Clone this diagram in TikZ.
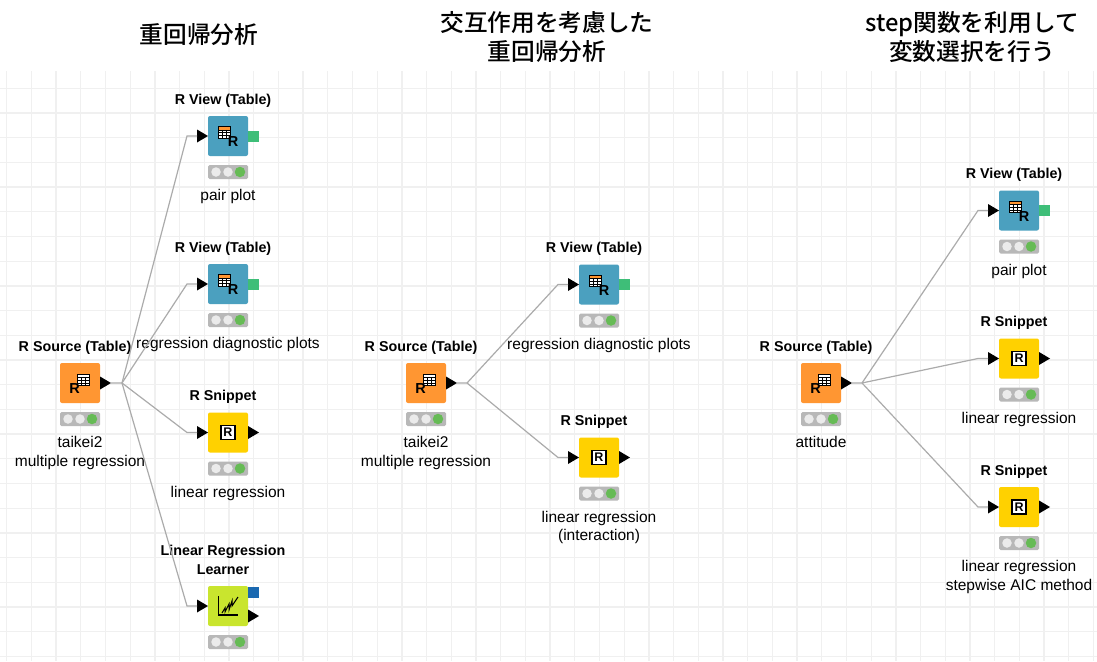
\documentclass[tikz,border=0pt]{standalone}
\usepackage{fontspec}
\setmainfont{Liberation Sans}
\newfontfamily\cjk{Noto Sans CJK JP Medium}
\usepackage{xcolor}
\usepackage{tikz}
\usetikzlibrary{arrows.meta,positioning,shapes.geometric}

\definecolor{srcorange}{HTML}{FF9632}
\definecolor{viewblue}{HTML}{4BA0BF}
\definecolor{snipyellow}{HTML}{FFD100}
\definecolor{learngreen}{HTML}{C9E52E}
\definecolor{portgreen}{HTML}{3EBE78}
\definecolor{portblue}{HTML}{1A68B0}
\definecolor{lampgreen}{HTML}{66BB55}

% icon, traffic light, title and label of one workflow node
\newcommand{\knimenode}[5]{%
  \node[#3, #2] (#1) {};
  \node[lamp, below=9pt of #1] (#1-lamp) {};
  \node[lampoff] (#1-b) at (#1-lamp) {};
  \node[lampoff, left=2.5pt of #1-b] (#1-a) {};
  \node[lampon, right=2pt of #1-b] (#1-c) {};
  \node[nodetitle, above=9pt of #1, xshift=-5pt] (#1-title) {#4};
  \node[nodelabel, below=10.5pt of #1-lamp] (#1-label) {#5};
}
% input port with the bend of the wire in front of it
\newcommand{\knimein}[1]{%
  \node[portin, left=0pt of #1] (#1-in) {};
  \coordinate[left=10pt of #1-in] (#1-knee);
}
\newcommand{\tableicon}[3]{%
  \begin{scope}[shift={(#1)}, shift={(#2)}]
    \fill[white] (0,0) rectangle (11.5,11.5);
    \fill[#3] (0,0) rectangle (11.5,3.2);
    \draw[black, line width=.6pt] (0,3.2) -- (11.5,3.2) (0,6) -- (11.5,6) (0,8.8) -- (11.5,8.8)
      (3.8,3.2) -- (3.8,11.5) (7.7,3.2) -- (7.7,11.5);
    \draw[black, line width=1pt] (0,0) rectangle (11.5,11.5);
  \end{scope}
}

\begin{document}
\begin{tikzpicture}[
    x=1pt, y=-1pt,
    every node/.style={inner sep=0pt, outer sep=0pt},
    icon/.style={rounded corners=2pt, minimum size=40pt},
    srcbox/.style={icon, fill=srcorange},
    viewbox/.style={icon, fill=viewblue},
    snipbox/.style={icon, fill=snipyellow},
    learnbox/.style={icon, fill=learngreen},
    lamp/.style={rounded corners=1.5pt, minimum width=40pt, minimum height=14pt, fill=black!28},
    lampoff/.style={circle, minimum size=9.5pt, fill=black!8},
    lampon/.style={circle, minimum size=10.5pt, fill=lampgreen},
    nodetitle/.style={align=center, anchor=south, font=\bfseries\fontsize{14.3}{18.5}\selectfont},
    nodelabel/.style={align=center, font=\fontsize{15.5}{18.5}\selectfont},
    heading/.style={align=center, font=\cjk\fontsize{23.7}{29}\selectfont},
    portin/.style={isosceles triangle, isosceles triangle stretches, minimum width=13pt, minimum height=11pt, fill=black},
    portout/.style={portin},
    portview/.style={minimum size=11pt, fill=portgreen},
    portmodel/.style={minimum size=11pt, fill=portblue},
    gridline/.style={draw=black!6, line width=1.3pt},
    wire/.style={draw=black!33, line width=1.2pt},
    letter/.style={font=\bfseries\fontsize{14.5}{14.5}\selectfont},
    snipletter/.style={draw=black, line width=1.3pt, fill=white, minimum size=14pt, font=\bfseries\fontsize{12.5}{12.5}\selectfont}
]
\useasboundingbox (0,0) rectangle (1097,661);
\fill[white] (0,0) rectangle (1097,661);

\foreach \i in {0,...,44} \draw[gridline] ({6.7+24.7*\i},71) -- ({6.7+24.7*\i},661);
\foreach \j in {0,...,23} \draw[gridline] (0,{88.3+24.7*\j}) -- (1097,{88.3+24.7*\j});

\node[heading] (head1) at (199,35) {重回帰分析};
\node[heading] (head2) at (547,37) {交互作用を考慮した\\重回帰分析};
\node[heading] (head3) at (972,37) {step関数を利用して\\変数選択を行う};

% first workflow
\knimenode{src1}{at={(80,383)}}{srcbox}{R Source (Table)}{taikei2\\multiple regression}
\knimenode{view1}{above right=207pt and 108pt of src1}{viewbox}{R View (Table)}{pair plot}
\knimenode{view2}{above right=59pt and 108pt of src1}{viewbox}{R View (Table)}{regression diagnostic plots}
\knimenode{snip1}{below right=9.5pt and 108pt of src1}{snipbox}{R Snippet}{linear regression}
\knimenode{learn1}{below right=183pt and 108pt of src1}{learnbox}{Linear Regression\\Learner\rule[-3pt]{0pt}{0pt}}{}

% second workflow
\knimenode{src2}{right=306pt of src1}{srcbox}{R Source (Table)}{taikei2\\multiple regression}
\knimenode{view3}{above right=58.5pt and 133pt of src2}{viewbox}{R View (Table)}{regression diagnostic plots}
\knimenode{snip2}{below right=34.5pt and 133pt of src2}{snipbox}{R Snippet}{linear regression\\(interaction)}

% third workflow
\knimenode{src3}{right=355pt of src2}{srcbox}{R Source (Table)}{attitude}
\knimenode{view4}{above right=132.5pt and 158pt of src3}{viewbox}{R View (Table)}{pair plot}
\knimenode{snip3}{right=158pt of src3, yshift=24.5pt}{snipbox}{R Snippet}{linear regression}
\knimenode{snip4}{below right=84pt and 158pt of src3}{snipbox}{R Snippet}{linear regression\\stepwise AIC method}

\knimein{view1} \knimein{view2} \knimein{snip1} \knimein{learn1}
\knimein{view3} \knimein{snip2}
\knimein{view4} \knimein{snip3} \knimein{snip4}

\node[portout, right=0pt of src1] (src1-out) {};
\node[portout, right=0pt of src2] (src2-out) {};
\node[portout, right=0pt of src3] (src3-out) {};
\node[portout, right=0pt of snip1] (snip1-out) {};
\node[portout, right=0pt of snip2] (snip2-out) {};
\node[portout, right=0pt of snip3] (snip3-out) {};
\node[portout, right=0pt of snip4] (snip4-out) {};
\node[portview, right=0pt of view1] (view1-out) {};
\node[portview, right=0pt of view2] (view2-out) {};
\node[portview, right=0pt of view3] (view3-out) {};
\node[portview, right=0pt of view4] (view4-out) {};
\node[portout, right=0pt of learn1, yshift=-10pt] (learn1-out) {};
\node[portmodel, right=0pt of learn1, yshift=13.5pt] (learn1-model) {};

\coordinate[right=11pt of src1-out] (src1-fork);
\coordinate[right=10pt of src2-out] (src2-fork);
\coordinate[right=10pt of src3-out] (src3-fork);

\draw[wire] (src1-out) -- (src1-fork) -- (view1-knee) -- (view1-in);
\draw[wire] (src1-fork) -- (view2-knee) -- (view2-in);
\draw[wire] (src1-fork) -- (snip1-knee) -- (snip1-in);
\draw[wire] (src1-fork) -- (learn1-knee) -- (learn1-in);
\draw[wire] (src2-out) -- (src2-fork) -- (view3-knee) -- (view3-in);
\draw[wire] (src2-fork) -- (snip2-knee) -- (snip2-in);
\draw[wire] (src3-out) -- (src3-fork) -- (view4-knee) -- (view4-in);
\draw[wire] (src3-fork) -- (snip3-knee) -- (snip3-in);
\draw[wire] (src3-fork) -- (snip4-knee) -- (snip4-in);

% icons on the source nodes
\tableicon{src1}{-2.3,-9}{white}
\tableicon{src2}{-2.3,-9}{white}
\tableicon{src3}{-2.3,-9}{white}
\node[letter, xshift=-5.5pt, yshift=-6pt] (src1-r) at (src1) {R};
\node[letter, xshift=-5.5pt, yshift=-6pt] (src2-r) at (src2) {R};
\node[letter, xshift=-5.5pt, yshift=-6pt] (src3-r) at (src3) {R};

% icons on the view nodes
\tableicon{view1}{-9.5,-9.3}{srcorange}
\tableicon{view2}{-9.5,-9.3}{srcorange}
\tableicon{view3}{-9.5,-9.3}{srcorange}
\tableicon{view4}{-9.5,-9.3}{srcorange}
\node[letter, xshift=5pt, yshift=-6pt] (view1-r) at (view1) {R};
\node[letter, xshift=5pt, yshift=-6pt] (view2-r) at (view2) {R};
\node[letter, xshift=5pt, yshift=-6pt] (view3-r) at (view3) {R};
\node[letter, xshift=5pt, yshift=-6pt] (view4-r) at (view4) {R};

% icons on the snippet nodes
\node[snipletter] (snip1-r) at (snip1) {R};
\node[snipletter] (snip2-r) at (snip2) {R};
\node[snipletter] (snip3-r) at (snip3) {R};
\node[snipletter] (snip4-r) at (snip4) {R};

% icon on the learner node
\begin{scope}[shift={(learn1)}]
  \draw[black, line width=1.1pt] (-9.5,-10) -- (-9.5,9) -- (10,9);
  \draw[black, line width=1pt] (-6,7) -- (-3,2) -- (-3,6) -- (1,-2) -- (1,4) -- (4,-5) -- (4,0) -- (10,-9);
\end{scope}
\end{tikzpicture}
\end{document}
